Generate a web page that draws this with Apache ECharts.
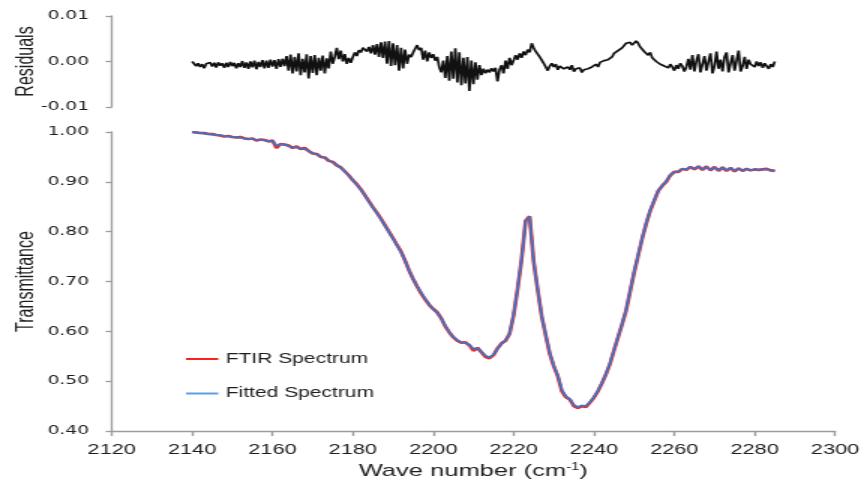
<!DOCTYPE html>
<html>
<head>
<meta charset="utf-8">
<script src="https://cdn.jsdelivr.net/npm/echarts@6.0.0/dist/echarts.min.js"></script>
<style>
  html, body { margin: 0; padding: 0; background: #fff; overflow: hidden; }
  /* the source figure is stretched sideways, so draw narrow and stretch */
  #chart { width: 574px; height: 479px; transform: scaleX(1.5); transform-origin: 0 0; }
</style>
</head>
<body>
<div id="chart"></div>
<script>
// spectrum sampled every 1 cm-1 from 2140 to 2285
var specStart = 2140, specStep = 1;
var ftir = [
  1.000, 0.999, 0.998, 0.998, 0.996, 0.996, 0.994, 0.993, 0.991, 0.992,
  0.990, 0.989, 0.990, 0.987, 0.986, 0.987, 0.983, 0.985, 0.984, 0.981,
  0.983, 0.968, 0.976, 0.975, 0.973, 0.968, 0.971, 0.966, 0.968, 0.962,
  0.957, 0.956, 0.950, 0.949, 0.942, 0.940, 0.933, 0.929, 0.921, 0.913,
  0.903, 0.895, 0.885, 0.873, 0.861, 0.849, 0.838, 0.826, 0.813, 0.800,
  0.787, 0.773, 0.760, 0.742, 0.722, 0.705, 0.690, 0.676, 0.664, 0.653,
  0.645, 0.638, 0.626, 0.610, 0.598, 0.588, 0.581, 0.577, 0.578, 0.572,
  0.561, 0.567, 0.558, 0.549, 0.546, 0.552, 0.566, 0.576, 0.581, 0.595,
  0.632, 0.685, 0.745, 0.822, 0.831, 0.740, 0.683, 0.630, 0.592, 0.555,
  0.530, 0.510, 0.480, 0.468, 0.463, 0.450, 0.446, 0.450, 0.448, 0.457,
  0.467, 0.480, 0.496, 0.514, 0.535, 0.562, 0.588, 0.614, 0.642, 0.680,
  0.718, 0.752, 0.786, 0.816, 0.842, 0.862, 0.882, 0.892, 0.900, 0.913,
  0.920, 0.920, 0.926, 0.924, 0.930, 0.925, 0.931, 0.924, 0.931, 0.923,
  0.930, 0.922, 0.929, 0.922, 0.928, 0.921, 0.927, 0.922, 0.926, 0.923,
  0.925, 0.924, 0.925, 0.926, 0.923, 0.922
];
var fitted = [
  1.000, 0.999, 0.998, 0.997, 0.996, 0.995, 0.994, 0.993, 0.992, 0.991,
  0.990, 0.989, 0.989, 0.987, 0.986, 0.986, 0.984, 0.984, 0.983, 0.982,
  0.982, 0.972, 0.976, 0.974, 0.972, 0.969, 0.969, 0.967, 0.966, 0.962,
  0.958, 0.955, 0.951, 0.948, 0.943, 0.939, 0.934, 0.928, 0.921, 0.912,
  0.904, 0.894, 0.884, 0.873, 0.860, 0.848, 0.837, 0.825, 0.812, 0.799,
  0.786, 0.772, 0.759, 0.741, 0.722, 0.705, 0.690, 0.677, 0.665, 0.654,
  0.645, 0.637, 0.626, 0.611, 0.599, 0.589, 0.582, 0.578, 0.577, 0.573,
  0.565, 0.566, 0.559, 0.551, 0.548, 0.553, 0.565, 0.575, 0.582, 0.596,
  0.633, 0.686, 0.746, 0.821, 0.830, 0.741, 0.684, 0.631, 0.593, 0.557,
  0.531, 0.511, 0.482, 0.470, 0.464, 0.452, 0.448, 0.451, 0.450, 0.458,
  0.468, 0.481, 0.497, 0.515, 0.536, 0.563, 0.589, 0.615, 0.643, 0.681,
  0.719, 0.753, 0.787, 0.817, 0.843, 0.863, 0.882, 0.893, 0.901, 0.913,
  0.920, 0.921, 0.926, 0.925, 0.930, 0.926, 0.931, 0.925, 0.930, 0.924,
  0.929, 0.923, 0.929, 0.923, 0.928, 0.922, 0.927, 0.922, 0.926, 0.923,
  0.925, 0.924, 0.925, 0.925, 0.923, 0.922
];
// residuals sampled every 0.5 cm-1 from 2140 to 2285
var resStart = 2140, resStep = 0.5;
var residuals = [
  0.0000, -0.0005, -0.0010, -0.0004, -0.0012, -0.0006, -0.0015, -0.0005, -0.0009, -0.0002,
  -0.0011, -0.0003, -0.0013, -0.0002, -0.0009, -0.0004, -0.0014, -0.0003, -0.0012, -0.0001,
  -0.0010, -0.0003, -0.0015, -0.0004, -0.0012,
  0.0001, -0.0014, -0.0002, -0.0016, 0.0000, -0.0013, 0.0002, -0.0017, -0.0001, -0.0012,
  0.0003, -0.0015, 0.0002, -0.0014, 0.0004, -0.0011, 0.0003, -0.0016, 0.0005, -0.0012,
  0.0006, -0.0010,
  0.0012, -0.0020, 0.0015, -0.0026, 0.0010, -0.0022, 0.0018, -0.0030, 0.0006, -0.0024,
  0.0016, -0.0037, 0.0012, -0.0025, 0.0014, -0.0030, 0.0008, -0.0020, 0.0013, -0.0026,
  0.0007, -0.0015, 0.0022, -0.0005,
  0.0010, 0.0030, 0.0005, 0.0024, 0.0000, 0.0016, -0.0005, 0.0008, -0.0003, 0.0010,
  0.0020, 0.0012,
  0.0025, 0.0020, 0.0030, 0.0026, 0.0022, 0.0032, 0.0018, 0.0036, 0.0015, 0.0038,
  0.0010, 0.0042, 0.0008, 0.0044,
  -0.0005, 0.0045, -0.0010, 0.0040, -0.0008, 0.0036, -0.0020, 0.0030, -0.0015, 0.0026,
  -0.0005, 0.0015, 0.0010, 0.0020, 0.0028, 0.0036, 0.0025,
  0.0030, 0.0004, 0.0024, 0.0000, 0.0020, 0.0008, 0.0016, 0.0002, 0.0010,
  -0.0012, -0.0024, 0.0002, -0.0036, 0.0012, -0.0042, 0.0022, -0.0038, 0.0029, -0.0046,
  0.0020, -0.0052, 0.0008, -0.0048, 0.0010, -0.0065, 0.0002, -0.0050, -0.0002, -0.0040,
  -0.0008, -0.0030,
  -0.0016, -0.0026, -0.0018, -0.0024, -0.0015, -0.0022, -0.0014, -0.0044, -0.0018,
  -0.0008, -0.0026, 0.0002, -0.0016, 0.0008, -0.0008, 0.0002, 0.0014, 0.0004, 0.0018,
  0.0008, 0.0022, 0.0014, 0.0026, 0.0020, 0.0040,
  0.0030, 0.0022, 0.0026, 0.0010, 0.0014, -0.0004, -0.0012, -0.0020,
  -0.0010, -0.0004, -0.0012, -0.0006, -0.0018, -0.0010, -0.0006, -0.0016, -0.0020, -0.0012,
  -0.0018, -0.0008, -0.0022, -0.0016, -0.0020,
  -0.0014, -0.0024, -0.0018, -0.0022, -0.0016, -0.0020, -0.0012, -0.0016,
  -0.0006, -0.0012, -0.0002, -0.0006, 0.0002, -0.0002, 0.0004, 0.0006, 0.0010, 0.0018,
  0.0014, 0.0024,
  0.0020, 0.0030, 0.0034, 0.0040, 0.0044, 0.0042, 0.0036, 0.0038, 0.0045, 0.0040,
  0.0032, 0.0036,
  0.0022, 0.0026, 0.0014, 0.0020, 0.0008, 0.0012, 0.0000, 0.0004, -0.0006, -0.0004,
  -0.0010, -0.0008, -0.0014, -0.0006, -0.0012, -0.0020, -0.0008, -0.0016, -0.0004, -0.0010,
  -0.0022, -0.0012,
  0.0006, -0.0018, 0.0014, -0.0022, 0.0002, 0.0016, -0.0024, -0.0006, 0.0012, -0.0020,
  0.0000, 0.0018, -0.0026, -0.0010, 0.0022, -0.0016, 0.0004, -0.0022, 0.0010, 0.0020,
  -0.0024, -0.0004, 0.0014, -0.0020, 0.0002, 0.0024, -0.0022, -0.0010, 0.0010, -0.0016,
  0.0004, -0.0006, -0.0002, -0.0012, 0.0000, -0.0010, -0.0002, -0.0014, -0.0004, -0.0008,
  -0.0016, -0.0006, -0.0012, 0.0000
];
var xTicks = [2120, 2300, 20];
var seriesNames = ['FTIR Spectrum', 'Fitted Spectrum'];

function pairs(start, step, vals) {
  return vals.map(function (v, i) { return [start + i * step, v]; });
}

var font = '"Liberation Sans", Arial, sans-serif';
var wide = '"DejaVu Sans", Verdana, sans-serif';
var axisGray = '#9c9c9c';
var textCol = '#1e1e1e';

var chart = echarts.init(document.getElementById('chart'), null, { renderer: 'canvas' });
var option = {
  animation: false,
  backgroundColor: '#ffffff',
  grid: [
    { left: 74.5, right: 17.3, top: 16, height: 91, outerBoundsMode: 'none', containLabel: false },
    { left: 74.5, right: 17.3, top: 132, bottom: 48, outerBoundsMode: 'none', containLabel: false }
  ],
  legend: {
    data: seriesNames,
    orient: 'vertical',
    left: 124,
    top: 352,
    padding: 0,
    itemGap: 20.5,
    itemWidth: 21.5,
    itemHeight: 2,
    icon: 'rect',
    textStyle: { fontFamily: font, fontSize: 14, color: textCol }
  },
  xAxis: [
    {
      gridIndex: 0, type: 'value', min: xTicks[0], max: xTicks[1], interval: xTicks[2],
      show: false
    },
    {
      gridIndex: 1, type: 'value', min: xTicks[0], max: xTicks[1], interval: xTicks[2],
      name: 'Wave number (cm{sup|-1})',
      nameLocation: 'middle',
      nameGap: 31,
      nameMoveOverlap: false,
      nameTextStyle: {
        fontFamily: font, fontSize: 17, color: textCol, verticalAlign: 'top',
        rich: { sup: { fontFamily: font, fontSize: 10, color: textCol, verticalAlign: 'top', padding: [0, 0, 8, 0] } }
      },
      axisLine: { lineStyle: { color: axisGray, width: 1.4 } },
      axisTick: { length: 5, lineStyle: { color: axisGray, width: 1.4 } },
      axisLabel: {
        fontFamily: font, fontSize: 14.5, color: textCol, margin: 11,
        formatter: function (v) { return String(v); }
      },
      splitLine: { show: false }
    }
  ],
  yAxis: [
    {
      gridIndex: 0, type: 'value', min: -0.01, max: 0.01, interval: 0.01,
      name: 'Residuals',
      nameLocation: 'middle',
      nameGap: 49,
      nameMoveOverlap: false,
      nameTextStyle: { fontFamily: font, fontSize: 16, color: textCol },
      axisLine: { show: true, lineStyle: { color: axisGray, width: 1.3 } },
      axisTick: { show: true, length: 4, lineStyle: { color: axisGray, width: 1.3 } },
      axisLabel: {
        fontFamily: wide, fontSize: 12.5, color: textCol, margin: 15,
        formatter: function (v) { return v.toFixed(2); }
      },
      splitLine: { show: false }
    },
    {
      gridIndex: 1, type: 'value', min: 0.4, max: 1.0, interval: 0.1,
      name: 'Transmittance',
      nameLocation: 'middle',
      nameGap: 49,
      nameMoveOverlap: false,
      nameTextStyle: { fontFamily: font, fontSize: 16, color: textCol },
      axisLine: { show: true, lineStyle: { color: axisGray, width: 1.3 } },
      axisTick: { show: true, length: 4, lineStyle: { color: axisGray, width: 1.3 } },
      axisLabel: {
        fontFamily: wide, fontSize: 12.5, color: textCol, margin: 15,
        formatter: function (v) { return v.toFixed(2); }
      },
      splitLine: { show: false }
    }
  ],
  series: [
    {
      name: 'Residuals', type: 'line', xAxisIndex: 0, yAxisIndex: 0,
      showSymbol: false, symbol: 'none',
      lineStyle: { color: '#111', width: 1.7 },
      data: pairs(resStart, resStep, residuals)
    },
    {
      name: seriesNames[0], type: 'line', xAxisIndex: 1, yAxisIndex: 1,
      showSymbol: false, symbol: 'none',
      color: '#ff2020',
      lineStyle: { color: '#ff2020', width: 2.6 },
      data: pairs(specStart, specStep, ftir)
    },
    {
      name: seriesNames[1], type: 'line', xAxisIndex: 1, yAxisIndex: 1,
      showSymbol: false, symbol: 'none',
      color: '#5aa0e0',
      lineStyle: { color: '#3a76c4', width: 1.8 },
      data: pairs(specStart, specStep, fitted)
    }
  ]
};
chart.setOption(option);
</script>
</body>
</html>
